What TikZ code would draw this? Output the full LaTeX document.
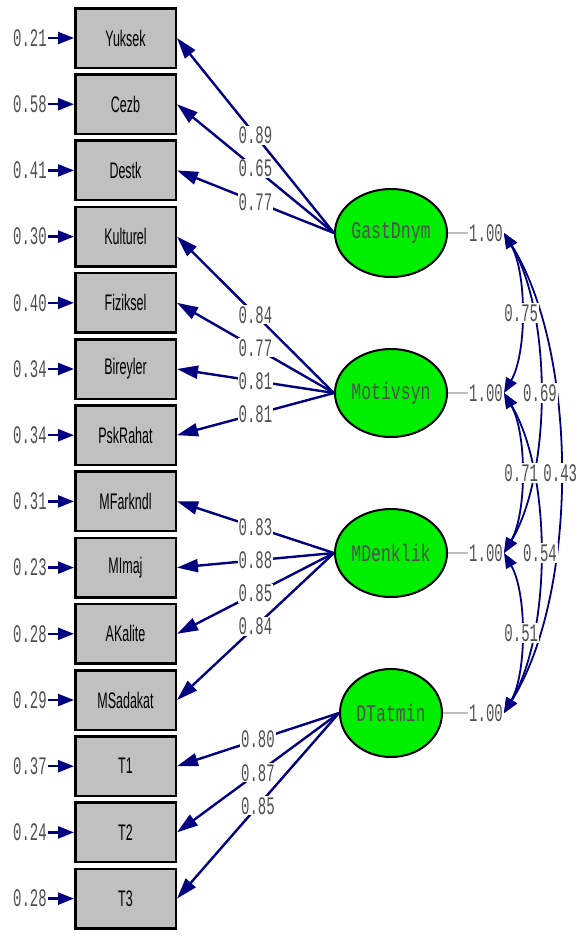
\documentclass[tikz,border=0pt]{standalone}
\usepackage{fontspec}
\setmainfont{Liberation Sans}
\newfontfamily\monofont{Liberation Mono}
\usetikzlibrary{arrows.meta,shapes.geometric,positioning}
\definecolor{navy}{HTML}{000080}
\definecolor{boxgray}{HTML}{C0C0C0}
\definecolor{latgreen}{HTML}{00EE00}
\definecolor{numgray}{HTML}{505050}
\definecolor{linegray}{HTML}{BEBEBE}
\newcommand{\tall}[1]{\scalebox{1}[1.8]{#1}}
\tikzset{
  obs/.style={draw=black, fill=boxgray, line width=2.5pt, minimum width=100.5pt, minimum height=59.5pt, inner sep=0pt, font=\fontsize{12.5}{12.5}\selectfont},
  lat/.style={ellipse, draw=black, fill=latgreen, line width=2pt, minimum width=102pt, minimum height=88pt, inner sep=0pt, text=numgray, font=\monofont\fontsize{16.5}{16.5}\selectfont},
  num/.style={text=numgray, inner sep=1pt, font=\monofont\fontsize{14}{14}\selectfont},
  err/.style={draw=navy, line width=2.4pt, arrows={-Triangle[length=16pt, width=12pt]}},
  load/.style={draw=navy, line width=2.4pt, arrows={-Triangle[length=21pt, width=13pt]}},
  cov/.style={draw=navy, line width=1.8pt, arrows={Triangle[length=15pt, width=12pt]-Triangle[length=15pt, width=12pt]}},
  vline/.style={draw=linegray, line width=2.5pt},
}

\begin{document}
\begin{tikzpicture}[x=1pt, y=-1pt]
\useasboundingbox (0,0) rectangle (578,938);

% indicators with their error variances
\foreach \n/\e [count=\i from 0] in {Yuksek/0.21,Cezb/0.58,Destk/0.41,Kulturel/0.30,Fiziksel/0.40,Bireyler/0.34,PskRahat/0.34,MFarkndl/0.31,MImaj/0.23,AKalite/0.28,MSadakat/0.29,T1/0.37,T2/0.24,T3/0.28}{
  \node[obs] (\n) at (125.5, 38+66.2*\i) {\tall{\n}};
  \node[num, anchor=east] (e\i) at (48, 38+66.2*\i) {\tall{\e}};
  \draw[err] (e\i.east) -- (\n.west);
}

% latent factors
\foreach \f [count=\k from 0] in {GastDnym,Motivsyn,MDenklik,DTatmin}{
  \node[lat] (\f) at (391, 233+160*\k) {\scalebox{1}[1.45]{\f}};
  \node[num, anchor=west] (v\k) at (468, 233+160*\k) {\tall{1.00}};
  \draw[vline] (\f.east) -- (v\k.west);
}

% loadings
\foreach \f/\n/\v in {GastDnym/Yuksek/0.89,GastDnym/Cezb/0.65,GastDnym/Destk/0.77,
  Motivsyn/Kulturel/0.84,Motivsyn/Fiziksel/0.77,Motivsyn/Bireyler/0.81,Motivsyn/PskRahat/0.81,
  MDenklik/MFarkndl/0.83,MDenklik/MImaj/0.88,MDenklik/AKalite/0.85,MDenklik/MSadakat/0.84,
  DTatmin/T1/0.80,DTatmin/T2/0.87,DTatmin/T3/0.85}{
  \draw[load] (\f.west) -- node[num, fill=white] {\tall{\v}} (\n.east);
}

% factor correlations
\foreach \a/\b/\d/\h/\v in {0/3/75/120/0.43,0/2/48/80/0.69,1/3/48/80/0.54,0/1/23/40/0.75,1/2/23/40/0.71,2/3/23/40/0.51}{
  \draw[cov] (v\a.east) .. controls +(\d,\h) and +(\d,-\h) .. node[num, fill=white] {\tall{\v}} (v\b.east);
}
\end{tikzpicture}
\end{document}
